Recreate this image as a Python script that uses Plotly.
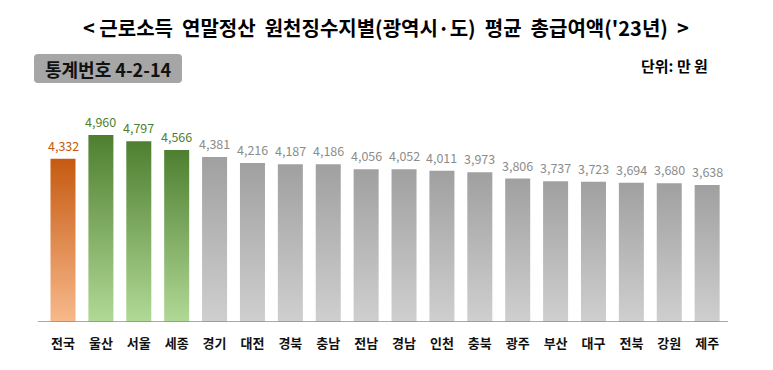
import plotly.graph_objects as go

categories = ["전국", "울산", "서울", "세종", "경기", "대전", "경북", "충남", "전남",
              "경남", "인천", "충북", "광주", "부산", "대구", "전북", "강원", "제주"]
values = [4332, 4960, 4797, 4566, 4381, 4216, 4187, 4186, 4056,
          4052, 4011, 3973, 3806, 3737, 3723, 3694, 3680, 3638]
groups = ["total", "top", "top", "top"] + ["other"] * 14

styles = {
    "total": {"top": "#C55A11", "bottom": "#F8B98C", "text": "#C55A11"},
    "top": {"top": "#4E7F30", "bottom": "#B1D996", "text": "#4E7F30"},
    "other": {"top": "#A0A0A0", "bottom": "#CFCFCF", "text": "#8C8C8C"},
}

# page body has an 8px margin; figure is sized to fit inside the window
W, H = 765, 362
ml, mr, mt, mb = 30, 45, 92, 48
PW, PH = W - ml - mr, H - mt - mb
bar_w = 0.66
ymax = 5890


def px(x):
    return (x - ml) / PW


def py(y):
    return 1 + (mt - y) / PH


def rounded_rect(x0, y0, x1, y1, r):
    # pixel coords (top-left origin) -> paper path with rounded corners
    X0, X1 = px(x0), px(x1)
    Y0, Y1 = py(y1), py(y0)  # bottom, top in paper
    rx, ry = r / PW, r / PH
    return (f"M {X0+rx},{Y0} L {X1-rx},{Y0} Q {X1},{Y0} {X1},{Y0+ry} "
            f"L {X1},{Y1-ry} Q {X1},{Y1} {X1-rx},{Y1} "
            f"L {X0+rx},{Y1} Q {X0},{Y1} {X0},{Y1-ry} "
            f"L {X0},{Y0+ry} Q {X0},{Y0} {X0+rx},{Y0} Z")


fig = go.Figure()
for i, (c, v, g) in enumerate(zip(categories, values, groups)):
    s = styles[g]
    fig.add_trace(go.Scatter(
        x=[i - bar_w / 2, i - bar_w / 2, i + bar_w / 2, i + bar_w / 2, i - bar_w / 2],
        y=[0, v, v, 0, 0],
        mode="lines", line=dict(width=0),
        fill="toself",
        fillgradient=dict(type="vertical",
                          colorscale=[[0, s["bottom"]], [1, s["top"]]]),
        hoverinfo="skip", showlegend=False, name=c,
    ))

annotations = []
for i, (v, g) in enumerate(zip(values, groups)):
    annotations.append(dict(
        x=i, y=v, xref="x", yref="y", text=f"{v:,}", showarrow=False,
        xanchor="center", yanchor="bottom", yshift=2,
        font=dict(family="Noto Sans CJK KR", size=12.5, color=styles[g]["text"]),
    ))

annotations += [
    dict(text="< 근로소득  연말정산  원천징수지별(광역시·도)  평균  총급여액('23년)  >",
         xref="paper", yref="paper", x=px(378), y=py(19),
         xanchor="center", yanchor="middle", showarrow=False,
         font=dict(size=20, color="black", family="Noto Sans CJK KR", weight="bold")),
    dict(text="통계번호 4-2-14", xref="paper", yref="paper",
         x=px(100), y=py(60.5),
         xanchor="center", yanchor="middle", showarrow=False,
         font=dict(size=18, color="#111111", family="Noto Sans CJK KR", weight="bold")),
    dict(text="단위: 만 원", xref="paper", yref="paper",
         x=px(702), y=py(57),
         xanchor="right", yanchor="middle", showarrow=False,
         font=dict(size=15, color="black", family="Noto Sans CJK KR", weight="bold")),
]

fig.update_layout(
    width=W, height=H,
    margin=dict(l=ml, r=mr, t=mt, b=mb),
    paper_bgcolor="white", plot_bgcolor="white",
    font=dict(family="Noto Sans CJK KR", color="black"),
    xaxis=dict(range=[-0.66, 17.55], tickmode="array",
               tickvals=list(range(len(categories))), ticktext=categories,
               tickfont=dict(size=13, color="#111111", family="Noto Sans CJK KR", weight="bold"),
               ticklabelstandoff=12,
               showgrid=False, zeroline=False, showline=False, ticks="",
               fixedrange=True),
    yaxis=dict(range=[0, ymax], visible=False, fixedrange=True),
    shapes=[
        dict(type="line", xref="paper", yref="y", x0=0, x1=1, y0=0, y1=0,
             line=dict(color="#8C8C8C", width=1.5)),
        dict(type="path", xref="paper", yref="paper",
             path=rounded_rect(26, 46, 174, 75, 4),
             fillcolor="#A6A6A6", line=dict(width=0), layer="below"),
    ],
    annotations=annotations,
)

fig.write_html("out.html")
